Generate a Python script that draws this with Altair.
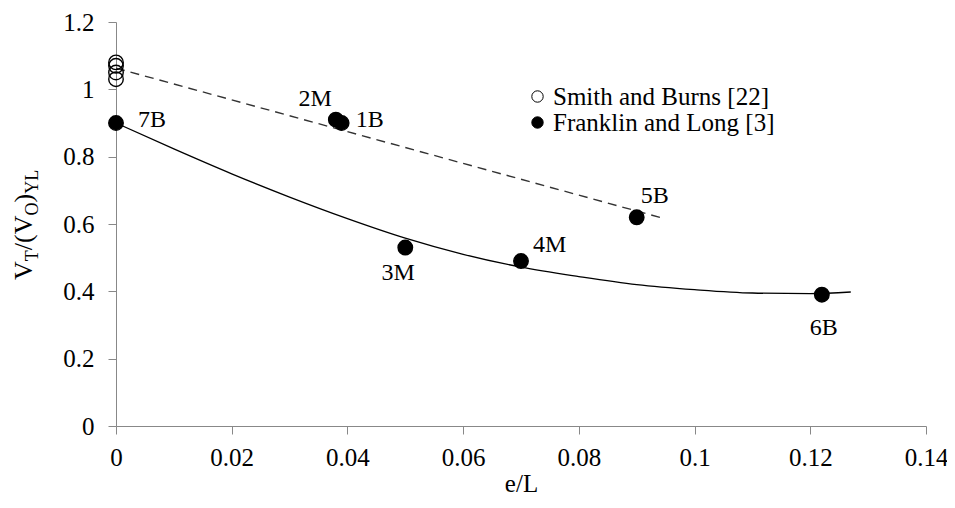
import altair as alt
import pandas as pd

# ---------------- data ----------------
series_names = ["Smith and Burns [22]", "Franklin and Long [3]"]

smith_x = [0.0, 0.0, 0.0, 0.0]
smith_y = [1.08, 1.07, 1.05, 1.03]

fl_x = [0.0, 0.038, 0.039, 0.050, 0.070, 0.090, 0.122]
fl_y = [0.90, 0.91, 0.90, 0.53, 0.49, 0.62, 0.39]
fl_labels = ["7B", "2M", "1B", "3M", "4M", "5B", "6B"]

dashed_x = [0.0, 0.095]
dashed_y = [1.063, 0.615]

curve_x = [0.0, 0.01, 0.02, 0.03, 0.04, 0.05, 0.06, 0.07, 0.08, 0.09, 0.10, 0.11, 0.12, 0.127]
curve_y = [0.900, 0.823, 0.749, 0.680, 0.616, 0.558, 0.510, 0.472, 0.444, 0.420, 0.405, 0.395, 0.393, 0.398]

x_ticks = [0, 0.02, 0.04, 0.06, 0.08, 0.10, 0.12, 0.14]
y_ticks = [0, 0.2, 0.4, 0.6, 0.8, 1.0, 1.2]

FONT = "Liberation Serif"

pts = pd.DataFrame({
    "x": smith_x + fl_x,
    "y": smith_y + fl_y,
    "series": [series_names[0]] * len(smith_x) + [series_names[1]] * len(fl_x),
})
labels_df = pd.DataFrame({"x": fl_x, "y": fl_y, "label": fl_labels})
dash_df = pd.DataFrame({"x": dashed_x, "y": dashed_y})
curve_df = pd.DataFrame({"x": curve_x, "y": curve_y})

xscale = alt.Scale(domain=[0, 0.14], nice=False, zero=False)
yscale = alt.Scale(domain=[0, 1.2], nice=False, zero=False)

xaxis = alt.Axis(values=x_ticks, format="~g", title="e/L", grid=False,
                 domainColor="#888888", tickColor="#888888", tickSize=8,
                 labelFont=FONT, labelFontSize=25, labelColor="black", labelPadding=11,
                 titleFont=FONT, titleFontSize=25, titleFontWeight="normal",
                 titleColor="black", titlePadding=1, labelFlush=False)
yaxis = alt.Axis(values=y_ticks, format="~g", title=None, grid=False,
                 domainColor="#888888", tickColor="#888888", tickSize=8,
                 labelFont=FONT, labelFontSize=25, labelColor="black", labelPadding=14,
                 labelFlush=False)

X = alt.X("x:Q", scale=xscale, axis=xaxis)
Y = alt.Y("y:Q", scale=yscale, axis=yaxis)

dashed = alt.Chart(dash_df).mark_line(color="#333333", strokeWidth=1.4,
                                      strokeDash=[9, 6]).encode(x=X, y=Y)
curve = alt.Chart(curve_df).mark_line(color="black", strokeWidth=1.3,
                                      interpolate="monotone").encode(x=X, y=Y)

points = alt.Chart(pts).mark_point(filled=True, stroke="black", strokeWidth=1.4,
                                   size=210, opacity=1, clip=False).encode(
    x=X, y=Y,
    fill=alt.Fill("series:N",
                  scale=alt.Scale(domain=series_names, range=["transparent", "black"]),
                  legend=alt.Legend(title=None, orient="none", legendX=409, legendY=62,
                                    symbolType="circle", symbolSize=130,
                                    symbolStrokeColor="black", symbolStrokeWidth=1,
                                    labelFont=FONT, labelFontSize=25, labelColor="black",
                                    labelLimit=0, labelOffset=3, rowPadding=0)),
)

# label placement (styling only)
label_style = {
    "7B": dict(align="left", dx=22, dy=-3),
    "2M": dict(align="right", dx=-4, dy=-21),
    "1B": dict(align="left", dx=14, dy=-3),
    "3M": dict(align="center", dx=-7, dy=25),
    "4M": dict(align="left", dx=12, dy=-16),
    "5B": dict(align="left", dx=4, dy=-21),
    "6B": dict(align="center", dx=2, dy=33),
}
label_layers = []
for lab in fl_labels:
    st = label_style[lab]
    label_layers.append(
        alt.Chart(labels_df).transform_filter(alt.datum.label == lab).mark_text(
            font=FONT, fontSize=24, color="black", baseline="middle", **st
        ).encode(x=X, y=Y, text="label:N")
    )

# y-axis title with subscripts: V_T/(V_O)_YL, rotated
one = pd.DataFrame({"k": [0]})
title_parts = [
    ("V", 26, -84, 258),
    ("T", 18, -78, 239.2),
    ("/(V", 26, -84, 228.2),
    ("O", 18, -78, 193.5),
    (")", 26, -84, 180.5),
    ("YL", 18, -78, 171.8),
]
title_layers = []
for txt, fs, px, py in title_parts:
    title_layers.append(
        alt.Chart(one).mark_text(text=txt, font=FONT, fontSize=fs, angle=270,
                                 align="left", baseline="alphabetic", color="black").encode(
            x=alt.value(px), y=alt.value(py)
        )
    )

chart = alt.layer(dashed, curve, points, *label_layers, *title_layers).properties(
    width=810, height=404,
    padding={"left": 108, "top": 14, "right": 21, "bottom": 74},
    autosize="none",
    background="white",
).configure(font=FONT).configure_view(stroke=None).configure_axis(
    labelFont=FONT, titleFont=FONT
).configure_legend(labelFont=FONT).configure_text(font=FONT)

chart.save("out.html", embed_options={"renderer": "svg", "actions": False})
